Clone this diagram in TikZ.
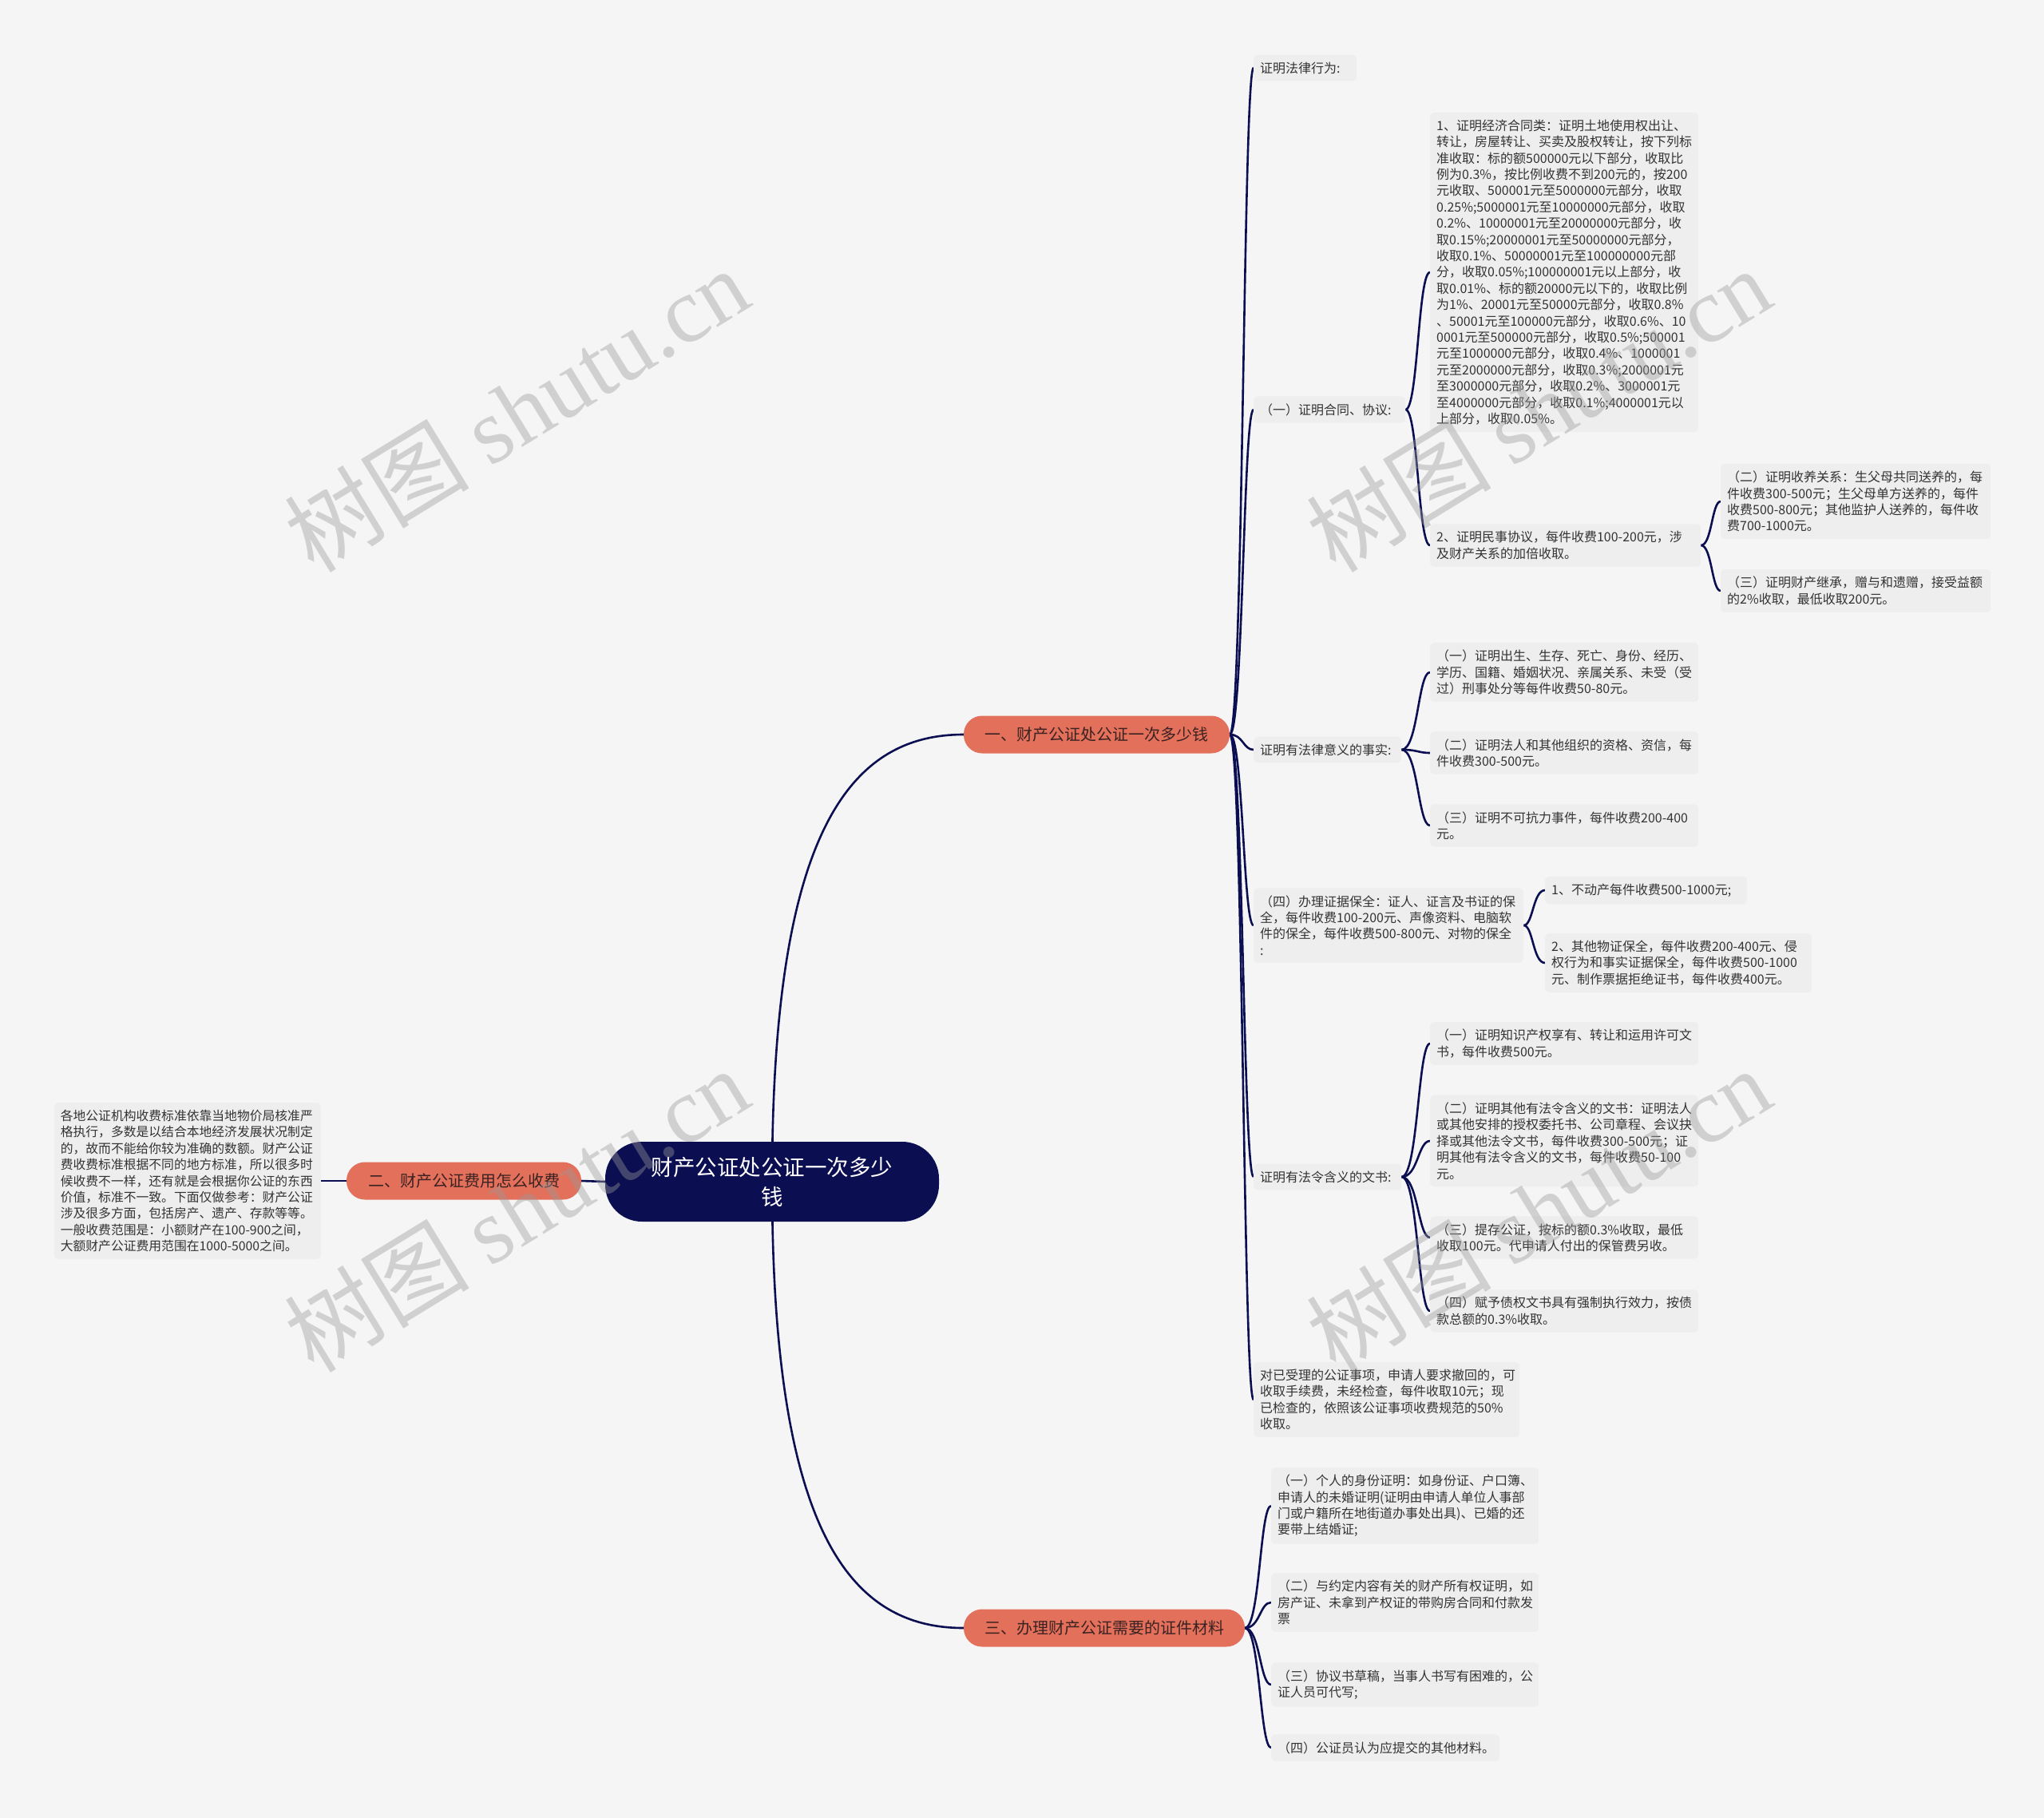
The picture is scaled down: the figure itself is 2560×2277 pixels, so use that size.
\documentclass[tikz,border=0pt]{standalone}
\usepackage{fontspec}
\setmainfont{Noto Sans CJK SC}
\newfontfamily\wmlatin{Liberation Serif}
\definecolor{bgc}{HTML}{F5F5F5}
\definecolor{boxc}{HTML}{EEEEEE}
\definecolor{navy}{HTML}{0B0F52}
\definecolor{salmon}{HTML}{E3705A}
\definecolor{txt}{HTML}{333333}
\definecolor{brtxt}{HTML}{3A2222}
\definecolor{wmc}{HTML}{9A9A9A}
\pgfdeclarelayer{bglayer}
\pgfdeclarelayer{linelayer}
\pgfsetlayers{bglayer,linelayer,main}
\newcommand\mmconn[3]{\draw[link] (#1.east) .. controls (#2,0 |- #1.east) and (#2,0 |- #3.west) .. (#3.west);}
\tikzset{
  leaf/.style={fill=boxc, rounded corners=5pt, anchor=west, align=left, inner xsep=8pt, inner ysep=9pt, text=txt, font=\fontsize{16}{20.4}\selectfont},
  branch/.style={fill=salmon, rounded corners=23pt, minimum height=47pt, inner sep=0pt, text=brtxt, font=\fontsize{20}{24}\selectfont},
  link/.style={draw=navy, line width=2.6pt},
  wm/.style={rotate=31.5, text=wmc, text opacity=0.4, font=\fontsize{116}{116}\selectfont},
}
\begin{document}
\begin{tikzpicture}[x=1pt,y=-1pt]
\useasboundingbox (0,0) rectangle (2560,2277);
\begin{pgfonlayer}{bglayer}
\fill[bgc] (0,0) rectangle (2560,2277);
\end{pgfonlayer}

% root and main branches
\node[fill=navy, text=white, rounded corners=46pt, minimum width=418pt, minimum height=100pt, inner sep=0pt, align=center, font=\fontsize{27.5}{37}\selectfont] (root) at (967,1480) {财产公证处公证一次多少\\钱};
\node[branch, minimum width=333pt] (b1) at (1373.5,920) {一、财产公证处公证一次多少钱};
\node[branch, minimum width=294pt] (b2) at (581,1479) {二、财产公证费用怎么收费};
\node[branch, minimum width=352pt] (b3) at (1383,2039) {三、办理财产公证需要的证件材料};

% left box
\node[leaf, anchor=east, text width=318pt, font=\fontsize{15.8}{20.4}\selectfont] (lt) at (402,1479) {各地公证机构收费标准依靠当地物价局核准严\\格执行，多数是以结合本地经济发展状况制定\\的，故而不能给你较为准确的数额。财产公证\\费收费标准根据不同的地方标准，所以很多时\\候收费不一样，还有就是会根据你公证的东西\\价值，标准不一致。下面仅做参考：财产公证\\涉及很多方面，包括房产、遗产、存款等等。\\一般收费范围是：小额财产在100-900之间，\\大额财产公证费用范围在1000-5000之间。};

% level 2 (branch 1)
\node[leaf, text width=113pt] (a1) at (1570,85) {证明法律行为:};
\node[leaf, text width=174pt] (a2) at (1570,513) {（一）证明合同、协议:};
\node[leaf, text width=169pt] (a3) at (1570,939) {证明有法律意义的事实:};
\node[leaf, text width=322pt] (a4) at (1570,1159) {（四）办理证据保全：证人、证言及书证的保\\全，每件收费100-200元、声像资料、电脑软\\件的保全，每件收费500-800元、对物的保全\\:};
\node[leaf, text width=169pt] (a5) at (1570,1474) {证明有法令含义的文书:};
\node[leaf, text width=317pt] (a6) at (1570,1753) {对已受理的公证事项，申请人要求撤回的，可\\收取手续费，未经检查，每件收取10元；现\\已检查的，依照该公证事项收费规范的50\%\\收取。};

% contracts
\node[leaf, text width=320pt] (c1) at (1791,341) {1、证明经济合同类：证明土地使用权出让、\\转让，房屋转让、买卖及股权转让，按下列标\\准收取：标的额500000元以下部分，收取比\\例为0.3\%，按比例收费不到200元的，按200\\元收取、500001元至5000000元部分，收取\\0.25\%;5000001元至10000000元部分，收取\\0.2\%、10000001元至20000000元部分，收\\取0.15\%;20000001元至50000000元部分，\\收取0.1\%、50000001元至100000000元部\\分，收取0.05\%;100000001元以上部分，收\\取0.01\%、标的额20000元以下的，收取比例\\为1\%、20001元至50000元部分，收取0.8\%\\、50001元至100000元部分，收取0.6\%、10\\0001元至500000元部分，收取0.5\%;500001\\元至1000000元部分，收取0.4\%、1000001\\元至2000000元部分，收取0.3\%;2000001元\\至3000000元部分，收取0.2\%、3000001元\\至4000000元部分，收取0.1\%;4000001元以\\上部分，收取0.05\%。};
\node[leaf, text width=323pt] (c2) at (1791,683) {2、证明民事协议，每件收费100-200元，涉\\及财产关系的加倍收取。};
\node[leaf, text width=322pt] (d1) at (2155,628) {（二）证明收养关系：生父母共同送养的，每\\件收费300-500元；生父母单方送养的，每件\\收费500-800元；其他监护人送养的，每件收\\费700-1000元。};
\node[leaf, text width=322pt] (d2) at (2155,740) {（三）证明财产继承，赠与和遗赠，接受益额\\的2\%收取，最低收取200元。};

% legal facts
\node[leaf, text width=320pt] (e1) at (1791,842) {（一）证明出生、生存、死亡、身份、经历、\\学历、国籍、婚姻状况、亲属关系、未受（受\\过）刑事处分等每件收费50-80元。};
\node[leaf, text width=320pt] (e2) at (1791,943) {（二）证明法人和其他组织的资格、资信，每\\件收费300-500元。};
\node[leaf, text width=320pt] (e3) at (1791,1034) {（三）证明不可抗力事件，每件收费200-400\\元。};

% evidence preservation
\node[leaf, text width=237pt] (f1) at (1935,1115) {1、不动产每件收费500-1000元;};
\node[leaf, text width=318pt] (f2) at (1935,1206) {2、其他物证保全，每件收费200-400元、侵\\权行为和事实证据保全，每件收费500-1000\\元、制作票据拒绝证书，每件收费400元。};

% documents
\node[leaf, text width=320pt] (g1) at (1791,1307) {（一）证明知识产权享有、转让和运用许可文\\书，每件收费500元。};
\node[leaf, text width=320pt] (g2) at (1791,1429) {（二）证明其他有法令含义的文书：证明法人\\或其他安排的授权委托书、公司章程、会议抉\\择或其他法令文书，每件收费300-500元；证\\明其他有法令含义的文书，每件收费50-100\\元。};
\node[leaf, text width=320pt] (g3) at (1791,1550) {（三）提存公证，按标的额0.3\%收取，最低\\收取100元。代申请人付出的保管费另收。};
\node[leaf, text width=320pt] (g4) at (1791,1642) {（四）赋予债权文书具有强制执行效力，按债\\款总额的0.3\%收取。};

% branch 3 children
\node[leaf, text width=319pt] (h1) at (1592,1886) {（一）个人的身份证明：如身份证、户口簿、\\申请人的未婚证明(证明由申请人单位人事部\\门或户籍所在地街道办事处出具)、已婚的还\\要带上结婚证;};
\node[leaf, text width=319pt] (h2) at (1592,2007) {（二）与约定内容有关的财产所有权证明，如\\房产证、未拿到产权证的带购房合同和付款发\\票};
\node[leaf, text width=319pt] (h3) at (1592,2110) {（三）协议书草稿，当事人书写有困难的，公\\证人员可代写;};
\node[leaf, text width=270pt] (h4) at (1592,2189) {（四）公证员认为应提交的其他材料。};

% connectors
\begin{pgfonlayer}{linelayer}
\draw[link] (root.center) .. controls (967,1050) and (1060,920) .. (b1.west);
\draw[link] (root.center) .. controls (967,1910) and (1060,2039) .. (b3.west);
\draw[link] (root.west) -- (b2.east);
\draw[link] (b2.west) -- (lt.east);
\mmconn{b1}{1557}{a1}
\mmconn{b1}{1557}{a2}
\mmconn{b1}{1557}{a3}
\mmconn{b1}{1557}{a4}
\mmconn{b1}{1557}{a5}
\mmconn{b1}{1557}{a6}
\mmconn{a2}{1776}{c1}
\mmconn{a2}{1776}{c2}
\mmconn{c2}{2144}{d1}
\mmconn{c2}{2144}{d2}
\mmconn{a3}{1776}{e1}
\mmconn{a3}{1776}{e2}
\mmconn{a3}{1776}{e3}
\mmconn{a4}{1920}{f1}
\mmconn{a4}{1920}{f2}
\mmconn{a5}{1776}{g1}
\mmconn{a5}{1776}{g2}
\mmconn{a5}{1776}{g3}
\mmconn{a5}{1776}{g4}
\mmconn{b3}{1578}{h1}
\mmconn{b3}{1578}{h2}
\mmconn{b3}{1578}{h3}
\mmconn{b3}{1578}{h4}
\end{pgfonlayer}

% watermarks
\node[wm] (w1) at (647,513) {树图 {\wmlatin shutu.cn}};
\node[wm] (w2) at (1927,513) {树图 {\wmlatin shutu.cn}};
\node[wm] (w3) at (647,1515) {树图 {\wmlatin shutu.cn}};
\node[wm] (w4) at (1927,1515) {树图 {\wmlatin shutu.cn}};
\end{tikzpicture}
\end{document}
